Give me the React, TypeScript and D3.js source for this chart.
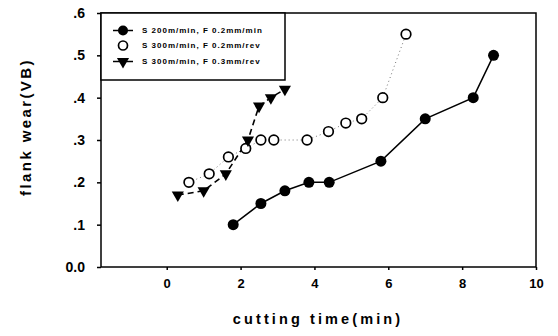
import * as d3 from 'd3';
import React, { useEffect, useRef } from 'react';

// cutting time (min) / flank wear (VB)
const s1Time = [1.8, 2.55, 3.2, 3.85, 4.4, 5.8, 7.0, 8.3, 8.85];
const s1Wear = [0.10, 0.15, 0.18, 0.20, 0.20, 0.25, 0.35, 0.40, 0.50];

const s2Time = [0.6, 1.15, 1.67, 2.14, 2.55, 2.9, 3.8, 4.38, 4.85, 5.28, 5.85, 6.48];
const s2Wear = [0.20, 0.22, 0.26, 0.28, 0.30, 0.30, 0.30, 0.32, 0.34, 0.35, 0.40, 0.55];

const s3Time = [0.3, 1.0, 1.6, 2.2, 2.5, 2.82, 3.2];
const s3Wear = [0.17, 0.18, 0.22, 0.30, 0.38, 0.40, 0.42];

const legendLabels = [
    'S 200m/min, F 0.2mm/min',
    'S 300m/min, F 0.2mm/rev',
    'S 300m/min, F 0.3mm/rev',
];

const xTicks = [0, 2, 4, 6, 8, 10];
const yTicks = [0, 0.1, 0.2, 0.3, 0.4, 0.5, 0.6];

const zip = (xs: number[], ys: number[]) => xs.map((x, i) => ({ x, y: ys[i] }));

export default function App() {
    const ref = useRef<SVGSVGElement>(null);

    useEffect(() => {
        const svg = d3.select(ref.current);
        svg.selectAll('*').remove();

        const left = 101, right = 536, top = 13, bottom = 267;

        const x = d3.scaleLinear().domain([-1.78, 10]).range([left, right]);
        const y = d3.scaleLinear().domain([0, 0.6]).range([bottom, top]);

        // frame
        svg.append('rect')
            .attr('x', left).attr('y', top)
            .attr('width', right - left).attr('height', bottom - top)
            .attr('fill', 'none').attr('stroke', 'black').attr('stroke-width', 1.5);

        // y axis
        const yAxis = d3.axisLeft(y)
            .tickValues(yTicks)
            .tickSize(4)
            .tickPadding(12)
            .tickFormat((d) => (+d === 0 ? '0.0' : d3.format('.1f')(+d).replace(/^0/, '')));
        const gy = svg.append('g')
            .attr('transform', `translate(${left},0)`)
            .call(yAxis);
        gy.select('.domain').remove();
        gy.selectAll('line').attr('stroke', 'black').attr('stroke-width', 1.5);
        gy.selectAll('text')
            .attr('fill', 'black')
            .style('font-family', 'Arial, "Liberation Sans", sans-serif')
            .style('font-weight', 'bold')
            .style('font-size', '14px');

        // x axis
        const xAxis = d3.axisBottom(x)
            .tickValues(xTicks)
            .tickSize(3)
            .tickPadding(9)
            .tickFormat(d3.format('d'));
        const gx = svg.append('g')
            .attr('transform', `translate(0,${bottom})`)
            .call(xAxis);
        gx.select('.domain').remove();
        gx.selectAll('line').attr('stroke', 'black').attr('stroke-width', 1.5);
        gx.selectAll('text')
            .attr('fill', 'black')
            .style('font-family', 'Arial, "Liberation Sans", sans-serif')
            .style('font-weight', 'bold')
            .style('font-size', '13px');

        // axis labels
        svg.append('text')
            .attr('text-anchor', 'middle')
            .attr('fill', 'black')
            .attr('font-family', 'Arial, "Liberation Sans", sans-serif')
            .attr('font-weight', 'bold')
            .attr('font-size', 14.5)
            .attr('letter-spacing', 3.1)
            .attr('transform', `translate(318,324)`)
            .text('cutting time(min)');

        svg.append('text')
            .attr('text-anchor', 'middle')
            .attr('fill', 'black')
            .attr('font-family', 'Arial, "Liberation Sans", sans-serif')
            .attr('font-weight', 'bold')
            .attr('font-size', 15)
            .attr('letter-spacing', 2.4)
            .attr('transform', `translate(31,127)rotate(-90)`)
            .text('flank wear(VB)');

        const line = d3.line<{ x: number; y: number }>()
            .x((d) => x(d.x))
            .y((d) => y(d.y));

        const tri = d3.symbol().type(d3.symbolTriangle).size(64)();

        // series 2 : open circles, dotted
        const s2 = zip(s2Time, s2Wear);
        svg.append('path')
            .attr('d', line(s2))
            .attr('fill', 'none')
            .attr('stroke', '#777')
            .attr('stroke-width', 1)
            .attr('stroke-dasharray', '1,3');

        // series 1 : filled circles, solid
        const s1 = zip(s1Time, s1Wear);
        svg.append('path')
            .attr('d', line(s1))
            .attr('fill', 'none')
            .attr('stroke', 'black')
            .attr('stroke-width', 1.5);

        // series 3 : triangles, dashed
        const s3 = zip(s3Time, s3Wear);
        svg.append('path')
            .attr('d', line(s3))
            .attr('fill', 'none')
            .attr('stroke', 'black')
            .attr('stroke-width', 1.6)
            .attr('stroke-dasharray', '6,4');

        svg.append('g').selectAll('circle')
            .data(s2)
            .enter()
            .append('circle')
            .attr('cx', (d) => x(d.x))
            .attr('cy', (d) => y(d.y))
            .attr('r', 4.8)
            .attr('fill', 'white')
            .attr('stroke', 'black')
            .attr('stroke-width', 1.7);

        svg.append('g').selectAll('circle')
            .data(s1)
            .enter()
            .append('circle')
            .attr('cx', (d) => x(d.x))
            .attr('cy', (d) => y(d.y))
            .attr('r', 5.5)
            .attr('fill', 'black');

        svg.append('g').selectAll('path')
            .data(s3)
            .enter()
            .append('path')
            .attr('d', tri)
            .attr('transform', (d) => `translate(${x(d.x)},${y(d.y)})rotate(180)`)
            .attr('fill', 'black');

        // legend
        const lg = svg.append('g');
        lg.append('rect')
            .attr('x', left).attr('y', top)
            .attr('width', 184).attr('height', 67)
            .attr('fill', 'white').attr('stroke', 'black').attr('stroke-width', 1.5);

        const rowY = [30.5, 45.5, 61.5];
        legendLabels.forEach((label, i) => {
            const cy = rowY[i];
            if (i !== 1) {
                lg.append('line')
                    .attr('x1', 113).attr('x2', 133)
                    .attr('y1', cy).attr('y2', cy)
                    .attr('stroke', 'black').attr('stroke-width', 1.5);
            }
            if (i === 0) {
                lg.append('circle').attr('cx', 123).attr('cy', cy).attr('r', 5).attr('fill', 'black');
            } else if (i === 1) {
                lg.append('circle').attr('cx', 123).attr('cy', cy).attr('r', 4.5)
                    .attr('fill', 'white').attr('stroke', 'black').attr('stroke-width', 1.7);
            } else {
                lg.append('path').attr('d', tri)
                    .attr('transform', `translate(123,${cy})rotate(180)`)
                    .attr('fill', 'black');
            }
            lg.append('text')
                .attr('x', 142).attr('y', cy)
                .attr('dy', '0.35em')
                .attr('fill', 'black')
                .attr('font-family', 'Arial, "Liberation Sans", sans-serif')
                .attr('font-weight', 'bold')
                .attr('font-size', 8)
                .attr('letter-spacing', 1)
                .text(label);
        });
    }, []);

    return <svg ref={ref} width={558} height={336} style={{ display: 'block', margin: -8 }} />;
}
